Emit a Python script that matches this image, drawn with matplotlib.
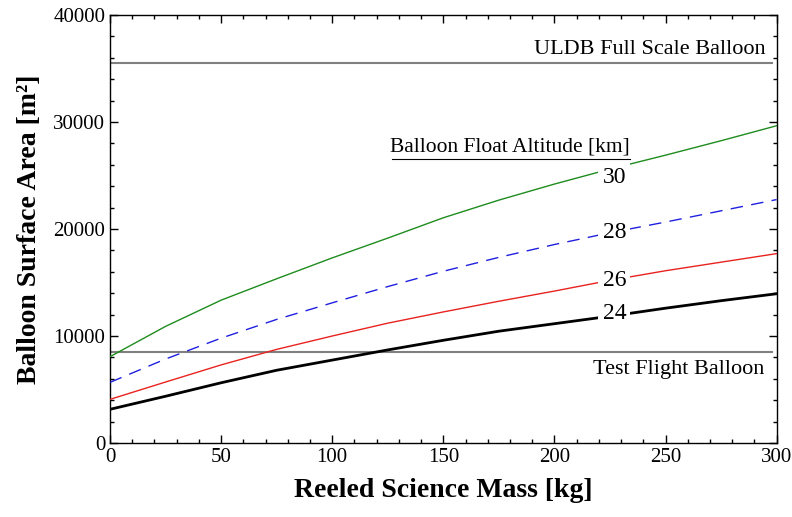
import matplotlib
matplotlib.use("Agg")
import matplotlib.pyplot as plt
from matplotlib.ticker import MultipleLocator

plt.rcParams['font.family'] = ['Liberation Serif', 'DejaVu Serif']

mass = [0, 25, 50, 75, 100, 125, 150, 175, 200, 225, 250, 275, 300]
area_24 = [3150, 4370, 5630, 6800, 7750, 8700, 9600, 10450, 11150, 11850, 12600, 13300, 13950]
area_26 = [4080, 5700, 7300, 8750, 10000, 11200, 12250, 13250, 14200, 15200, 16100, 16900, 17700]
area_28 = [5670, 7850, 9800, 11550, 13100, 14620, 16050, 17350, 18550, 19650, 20650, 21700, 22750]
area_30 = [8070, 10900, 13350, 15350, 17300, 19150, 21050, 22700, 24200, 25600, 26900, 28250, 29650]
uldb_area = 35500
test_area = 8550
altitudes = ["24", "26", "28", "30"]

fig = plt.figure(figsize=(7.92, 5.17), dpi=100)
ax = fig.add_axes([0.1389, 0.1431, 0.8417, 0.8279])

ax.plot(mass, area_24, color='black', lw=2.0, zorder=3)
ax.plot(mass, area_26, color='#e8231f', lw=1.0, zorder=3)
ax.plot(mass, area_28, color='#1f1fe0', lw=1.0, dashes=(9, 6), zorder=3)
ax.plot(mass, area_30, color='#1e8c1e', lw=1.0, zorder=3)

ax.plot([0.6, 298], [uldb_area, uldb_area], color='#808080', lw=1.5, zorder=2)
ax.plot([0.6, 298], [test_area, test_area], color='#808080', lw=1.5, zorder=2)

ax.text(295, uldb_area + 400, "ULDB Full Scale Balloon", ha='right', va='bottom', fontsize=16)
ax.text(294.5, test_area - 800, "Test Flight Balloon", ha='right', va='top', fontsize=16)
ax.text(234, 26750, "Balloon Float Altitude [km]", ha='right', va='bottom', fontsize=15.5,
        zorder=5)
ax.plot([127, 234], [26500, 26500], color='black', lw=0.8, zorder=5)

label_y = [12150, 15230, 19630, 24770]
for lab, yv in zip(altitudes, label_y):
    ax.text(227, yv, lab, ha='center', va='center', fontsize=17, zorder=6,
            bbox=dict(facecolor='white', edgecolor='none', pad=3))

ax.set_xlim(0, 300)
ax.set_ylim(0, 40000)
ax.xaxis.set_major_locator(MultipleLocator(50))
ax.xaxis.set_minor_locator(MultipleLocator(10))
ax.yaxis.set_major_locator(MultipleLocator(10000))
ax.yaxis.set_minor_locator(MultipleLocator(2000))
ax.tick_params(which='both', direction='in', top=True, right=True, labelsize=15, width=1)
ax.tick_params(which='major', length=6)
ax.tick_params(which='minor', length=3)
for s in ax.spines.values():
    s.set_linewidth(1.0)

ax.set_xlabel("Reeled Science Mass [kg]", fontsize=20, fontweight='bold', labelpad=8)
ax.set_ylabel("Balloon Surface Area [m²]", fontsize=20, fontweight='bold', labelpad=8)

fig.savefig("out.png", dpi=100)
